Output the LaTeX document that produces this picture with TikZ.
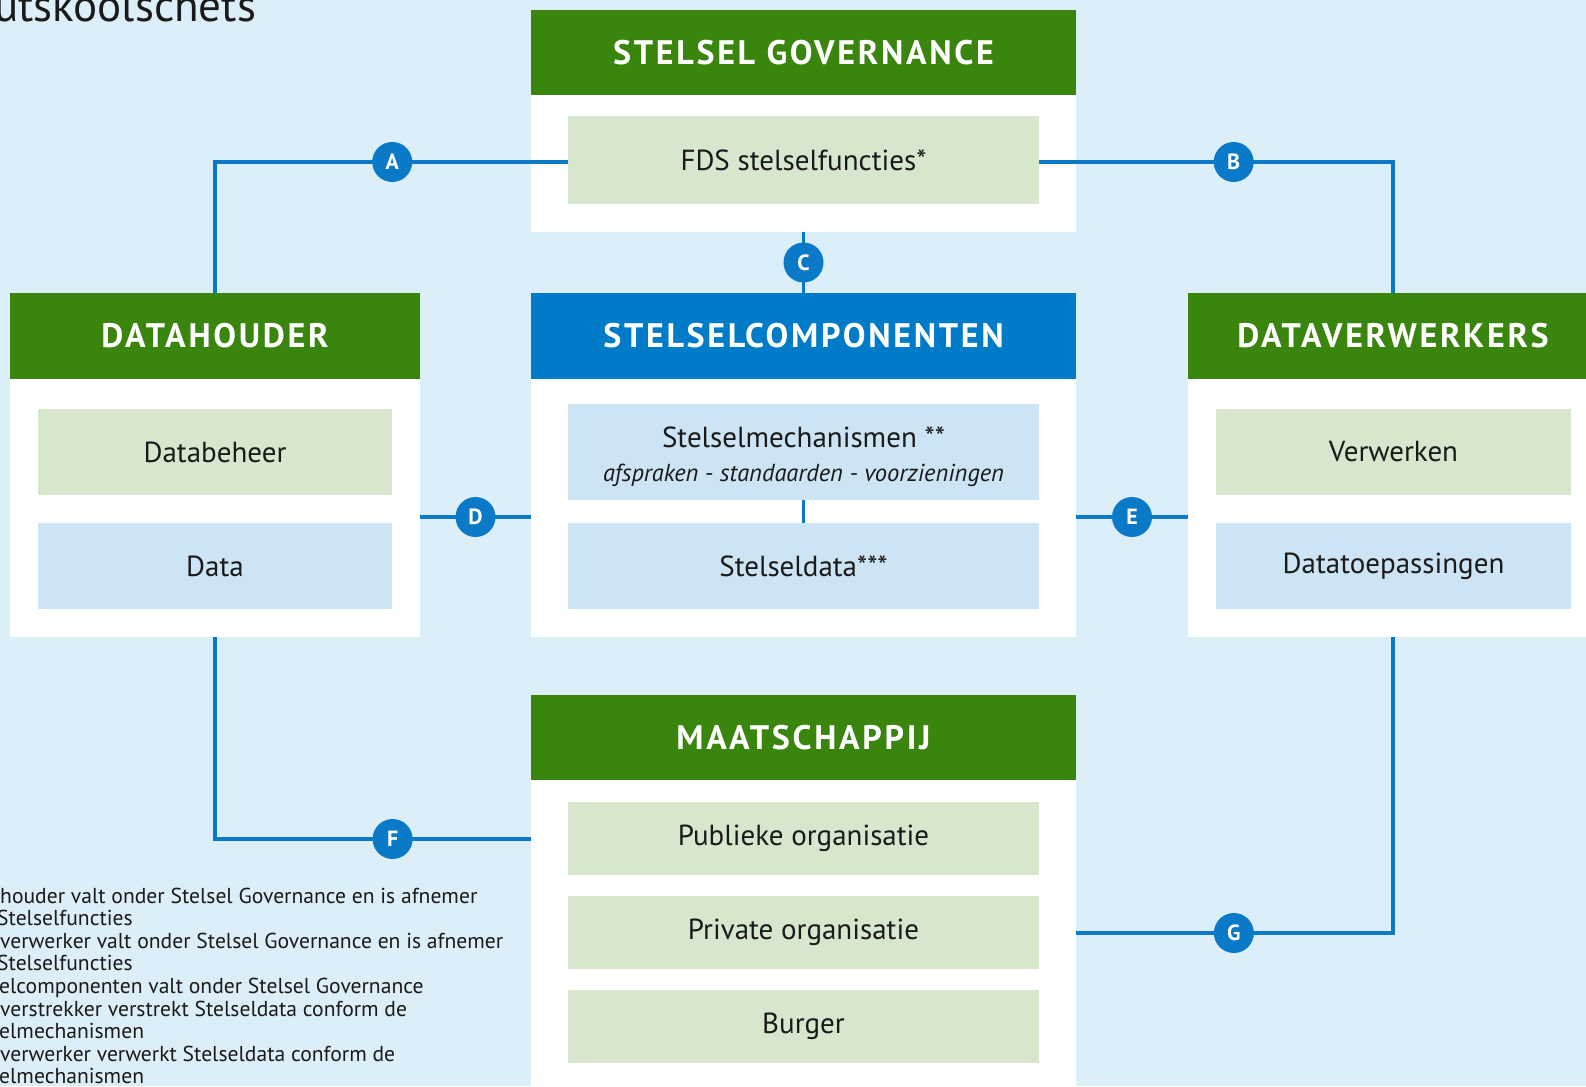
\documentclass[tikz,border=0pt]{standalone}
\usepackage{fontspec}
\setmainfont{PT Sans}
\newfontfamily\headfont[LetterSpace=8]{PT Sans Bold}
\definecolor{bgblue}{HTML}{DCEEF8}
\definecolor{hgreen}{HTML}{3A850E}
\definecolor{hblue}{HTML}{007BC7}
\definecolor{lgreen}{HTML}{D7E7CD}
\definecolor{lblue}{HTML}{CCE4F3}
\definecolor{cblue}{HTML}{0A7AC8}
\definecolor{txt}{HTML}{1A1A1A}
\tikzset{
  base/.style={anchor=north west, inner sep=0pt, outer sep=0pt},
  whitebox/.style={base, fill=white},
  ghead/.style={base, fill=hgreen, text=white, font=\headfont\fontsize{34}{36}\selectfont},
  bhead/.style={base, fill=hblue, text=white, font=\headfont\fontsize{34}{36}\selectfont},
  gitem/.style={base, fill=lgreen, text=txt, font=\fontsize{29}{32}\selectfont},
  bitem/.style={base, fill=lblue, text=txt, font=\fontsize{29}{32}\selectfont, align=center},
  conn/.style={draw=cblue, line width=3.5pt},
  circ/.style={circle, fill=cblue, text=white, minimum size=40pt, inner sep=0pt, font=\bfseries\fontsize{22}{22}\selectfont},
  legend/.style={anchor=base west, inner sep=0pt, text=txt, font=\fontsize{21.6}{23}\selectfont}
}
\begin{document}
\begin{tikzpicture}[x=1pt, y=-1pt]
\useasboundingbox (0,0) rectangle (1586,1086);
\clip (0,0) rectangle (1586,1086);
\fill[bgblue] (0,0) rectangle (1586,1086);

% title
\node[anchor=base west, inner sep=0pt, text=txt, font=\fontsize{45}{47}\selectfont] (title) at (-6,22) {utskoolschets};

% Stelsel governance
\node[whitebox, minimum width=545pt, minimum height=222pt] (govw) at (531,10) {};
\node[ghead, minimum width=545pt, minimum height=85pt] (govh) at (531,10) {STELSEL GOVERNANCE};
\node[gitem, minimum width=471pt, minimum height=88pt] (fds) at (568,116) {FDS stelselfuncties*};

% Datahouder
\node[whitebox, minimum width=410pt, minimum height=344pt] (dhw) at (10,293) {};
\node[ghead, minimum width=410pt, minimum height=86pt] (dhh) at (10,293) {DATAHOUDER};
\node[gitem, minimum width=354pt, minimum height=86pt] (dbeheer) at (38,409) {Databeheer};
\node[bitem, minimum width=354pt, minimum height=86pt] (data) at (38,523) {Data};

% Stelselcomponenten
\node[whitebox, minimum width=545pt, minimum height=344pt] (scw) at (531,293) {};
\node[bhead, minimum width=545pt, minimum height=86pt] (sch) at (531,293) {STELSELCOMPONENTEN};
\node[bitem, minimum width=471pt, minimum height=96pt] (mech) at (568,404) {\rule{0pt}{31pt}Stelselmechanismen **\\[2pt]{\itshape\fontsize{24.5}{28}\selectfont afspraken - standaarden - voorzieningen}};
\node[bitem, minimum width=471pt, minimum height=86pt] (sdata) at (568,523) {Stelseldata***};

% Dataverwerkers
\node[whitebox, minimum width=410pt, minimum height=344pt] (dvw) at (1188,293) {};
\node[ghead, minimum width=410pt, minimum height=86pt] (dvh) at (1188,293) {DATAVERWERKERS};
\node[gitem, minimum width=355pt, minimum height=86pt] (verw) at (1216,409) {Verwerken};
\node[bitem, minimum width=355pt, minimum height=86pt] (dtoep) at (1216,523) {Datatoepassingen};

% Maatschappij
\node[whitebox, minimum width=545pt, minimum height=420pt] (maw) at (531,695) {};
\node[ghead, minimum width=545pt, minimum height=85pt] (mah) at (531,695) {MAATSCHAPPIJ};
\node[gitem, minimum width=471pt, minimum height=73pt] (pub) at (568,802) {Publieke organisatie};
\node[gitem, minimum width=471pt, minimum height=73pt] (priv) at (568,896) {Private organisatie};
\node[gitem, minimum width=471pt, minimum height=73pt] (burg) at (568,990) {Burger};

% connectors
\draw[conn] ([yshift=-2pt]fds.west) -| node[circ, pos=0.249] {A} (dhh.north);
\draw[conn] ([yshift=-2pt]fds.east) -| node[circ, pos=0.275] {B} (dvh.north);
\draw[conn] (govw.south) -- node[circ, pos=0.5] {C} (sch.north);
\draw[conn] ([yshift=-52pt]dhw.east) -- node[circ, pos=0.5] {D} ([yshift=-52pt]scw.west);
\draw[conn] ([yshift=-52pt]scw.east) -- node[circ, pos=0.5] {E} ([yshift=-52pt]dvw.west);
\draw[conn] (mech.south) -- (sdata.north);
\draw[conn] (dhw.south) |- node[circ, pos=0.781] {F} ([yshift=-59pt]mah.south west);
\draw[conn] ([yshift=-153pt]mah.south east) -| node[circ, pos=0.249] {G} (dvw.south);

% legend
\node[legend] (l1) at (0,903) {houder valt onder Stelsel Governance en is afnemer};
\node[legend] (l2) at (-3,925) {Stelselfuncties};
\node[legend] (l3) at (0,948) {verwerker valt onder Stelsel Governance en is afnemer};
\node[legend] (l4) at (-3,970) {Stelselfuncties};
\node[legend] (l5) at (-1,993) {elcomponenten valt onder Stelsel Governance};
\node[legend] (l6) at (0,1016) {verstrekker verstrekt Stelseldata conform de};
\node[legend] (l7) at (-1,1038) {elmechanismen};
\node[legend] (l8) at (0,1061) {verwerker verwerkt Stelseldata conform de};
\node[legend] (l9) at (-1,1083) {elmechanismen};
\end{tikzpicture}
\end{document}
